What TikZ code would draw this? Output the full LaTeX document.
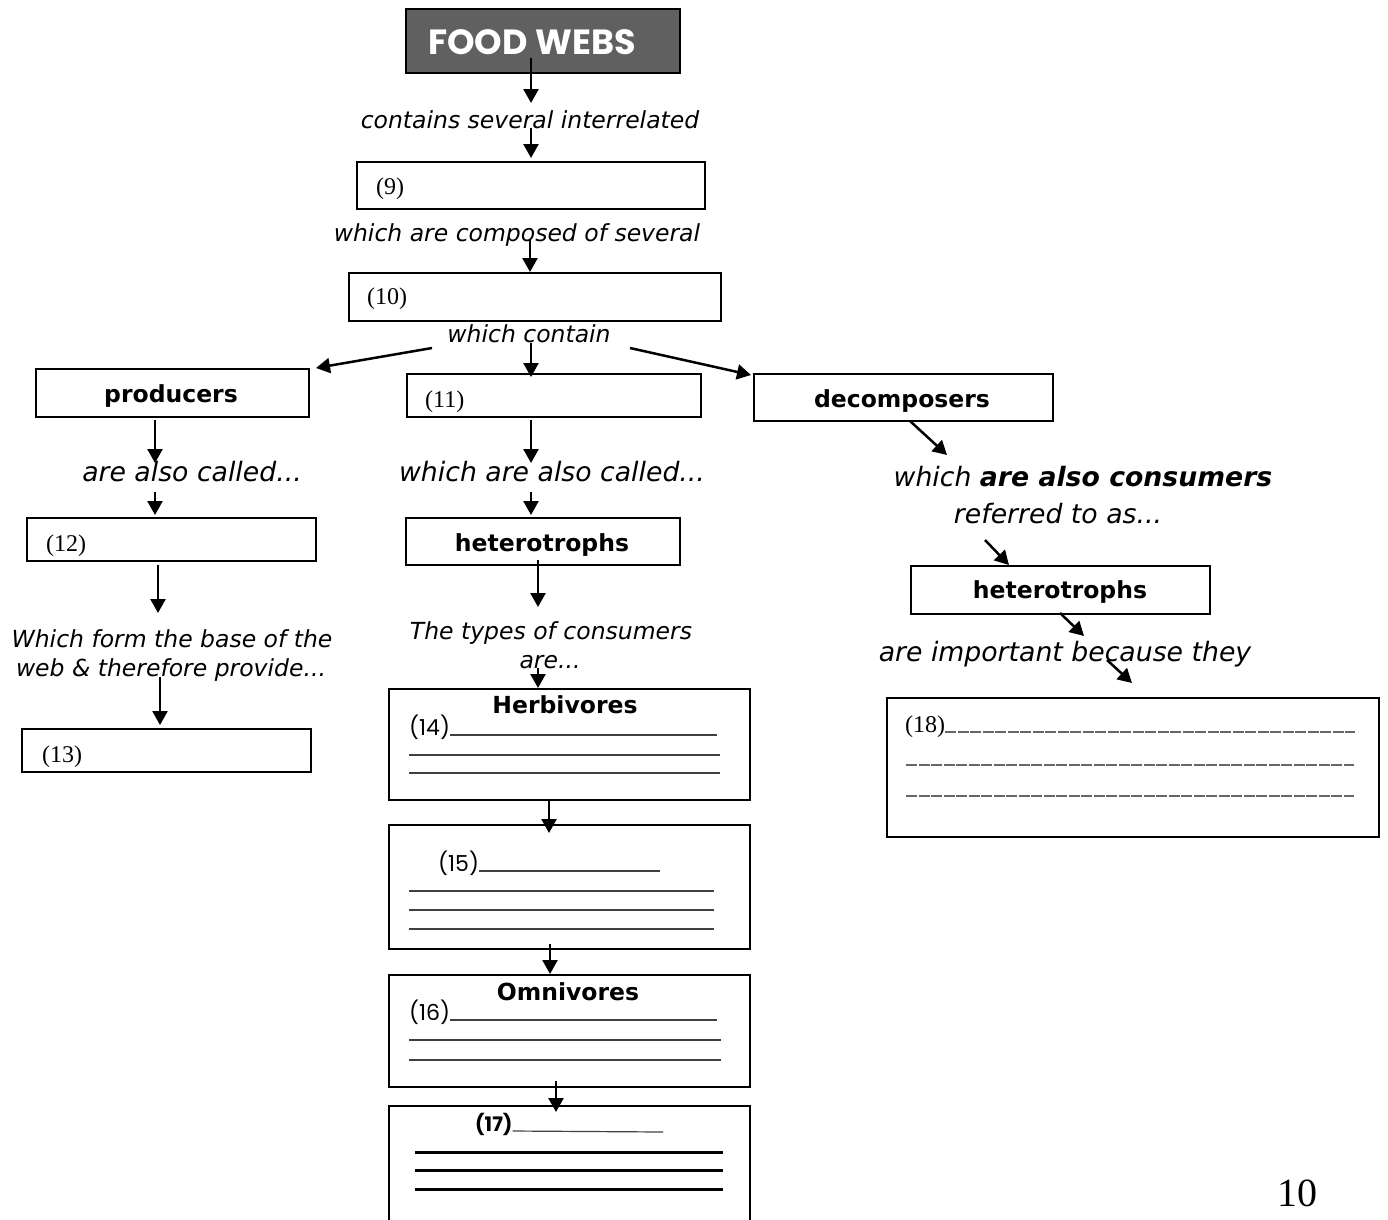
\documentclass[tikz,border=0pt]{standalone}
\usepackage{fontspec}
\setmainfont{DejaVu Sans}
\newfontfamily\serifnum{Liberation Serif}
\newfontfamily\gothic{Poppins}
\usetikzlibrary{arrows.meta}
\definecolor{headgray}{RGB}{96,96,96}

\begin{document}
\begin{tikzpicture}[x=1pt,y=-1pt,
  box/.style={draw, line width=2pt, inner sep=0pt, anchor=north west},
  arr/.style={line width=2.5pt, -{Triangle[length=14pt,width=15pt]}},
  lab/.style={anchor=base, inner sep=0pt, font=\fontsize{23.5}{28}\selectfont\itshape},
  biglab/.style={lab, font=\fontsize{26.7}{32}\selectfont\itshape},
  boxtitle/.style={anchor=base, inner sep=0pt, font=\fontsize{23.5}{28}\selectfont\bfseries},
  numtag/.style={anchor=base west, inner sep=0pt, font=\serifnum\fontsize{24}{28}\selectfont},
  gtag/.style={anchor=base west, inner sep=0pt, font=\gothic\fontsize{22}{26}\selectfont},
  blank/.style={line width=1.2pt, black!75},
  thickblank/.style={line width=3pt, black},
  dotblank/.style={line width=1.3pt, black!60, dash pattern=on 11pt off 1.5pt}
]
\useasboundingbox (0,0) rectangle (1388,1219);
\clip (0,0) rectangle (1388,1219);

% ---------- title ----------
\node[box, fill=headgray, minimum width=274pt, minimum height=64pt] (food) at (405,8) {};
\node[anchor=base, inner sep=0pt, text=white, font=\gothic\fontsize{35}{40}\selectfont\bfseries] (foodtxt) at (532,54) {FOOD WEBS};

% ---------- central chain ----------
\node[lab] (t1) at (530,128) {contains several interrelated};
\node[box, minimum width=348pt, minimum height=47pt] (b9) at (356,161) {};
\node[numtag] (n9) at (376,194) {(9)};
\node[lab] (t2) at (517,241) {which are composed of several};
\node[box, minimum width=372pt, minimum height=48pt] (b10) at (348,272) {};
\node[numtag] (n10) at (367,304) {(10)};
\node[lab] (t3) at (529,342) {which contain};

\node[box, minimum width=273pt, minimum height=48pt] (prod) at (35,368) {};
\node[boxtitle] at (171,402) {producers};
\node[box, minimum width=294pt, minimum height=43pt] (b11) at (406,373) {};
\node[numtag] (n11) at (425,407) {(11)};
\node[box, minimum width=299pt, minimum height=47pt] (dec) at (753,373) {};
\node[boxtitle] at (902,407) {decomposers};

% ---------- producers column ----------
\node[biglab] (t4) at (192,481) {are also called...};
\node[box, minimum width=289pt, minimum height=43pt] (b12) at (26,517) {};
\node[numtag] (n12) at (46,551) {(12)};
\node[lab] (t5) at (172,647) {Which form the base of the};
\node[lab] (t6) at (171,676) {web \& therefore provide...};
\node[box, minimum width=289pt, minimum height=43pt] (b13) at (21,728) {};
\node[numtag] (n13) at (42,762) {(13)};

% ---------- consumers column ----------
\node[biglab] (t7) at (552,481) {which are also called...};
\node[box, minimum width=274pt, minimum height=47pt] (het) at (405,517) {};
\node[boxtitle] at (542,551) {heterotrophs};
\node[lab] (t8) at (551,639) {The types of consumers};
\node[lab] (t9) at (550,668) {are...};

\node[box, minimum width=361pt, minimum height=111pt] (herb) at (388,688) {};
\node[boxtitle] at (565,713) {Herbivores};
\node[gtag] (n14) at (409,735) {(14)};
\draw[blank] (n14.base east) -- (717,735);
\draw[blank] (409,755) -- (720,755);
\draw[blank] (409,773) -- (720,773);

\node[box, minimum width=361pt, minimum height=124pt] (b15) at (388,824) {};
\node[gtag] (n15) at (438,871) {(15)};
\draw[blank] (n15.base east) -- (660,871);
\draw[blank] (409,891) -- (714,891);
\draw[blank] (409,910) -- (714,910);
\draw[blank] (409,929) -- (714,929);

\node[box, minimum width=361pt, minimum height=112pt] (b16) at (388,974) {};
\node[boxtitle] at (568,1000) {Omnivores};
\node[gtag] (n16) at (409,1020) {(16)};
\draw[blank] (n16.base east) -- (717,1020);
\draw[blank] (409,1040) -- (721,1040);
\draw[blank] (409,1060) -- (721,1060);

\node[box, minimum width=361pt, minimum height=150pt] (b17) at (388,1105) {};
\node[gtag, font=\gothic\fontsize{20}{24}\selectfont\bfseries] (n17) at (475,1131) {(17)};
\draw[blank] (n17.base east) -- (663,1132);
\draw[thickblank] (415,1152) -- (723,1152);
\draw[thickblank] (415,1170) -- (723,1170);
\draw[thickblank] (415,1189) -- (723,1189);

% ---------- decomposers column ----------
\node[biglab] (t10) at (1083,486) {which \textbf{are also consumers}};
\node[biglab] (t11) at (1058,523) {referred to as...};
\node[box, minimum width=299pt, minimum height=48pt] (het2) at (910,565) {};
\node[boxtitle] at (1060,598) {heterotrophs};
\node[biglab] (t12) at (1065,661) {are important because they};
\node[box, minimum width=492pt, minimum height=139pt] (b18) at (886,697) {};
\node[numtag] (n18) at (905,732) {(18)};
\draw[dotblank] (n18.base east) -- (1355,732);
\draw[dotblank] (906,765) -- (1354,765);
\draw[dotblank] (906,796) -- (1354,796);

% ---------- page number ----------
\node[anchor=base west, inner sep=0pt, font=\serifnum\fontsize{40}{44}\selectfont] (page) at (1277,1206) {10};

% ---------- arrow end points ----------
\coordinate (s1) at (531,58);   \coordinate (e1) at (531,103);
\coordinate (s2) at (531,128);
\coordinate (s3) at (530,240);
\coordinate (s4) at (432,348);  \coordinate (e4) at (316,368);
\coordinate (s5) at (531,343);
\coordinate (s6) at (630,348);  \coordinate (e6) at (751,375);
\coordinate (s7) at (155,420);  \coordinate (e7) at (155,463);
\coordinate (s8) at (155,492);
\coordinate (s9) at (531,420);  \coordinate (e9) at (531,463);
\coordinate (s10) at (531,492);
\coordinate (s11) at (158,565); \coordinate (e11) at (158,613);
\coordinate (s12) at (160,677); \coordinate (e12) at (160,725);
\coordinate (s13) at (538,560); \coordinate (e13) at (538,607);
\coordinate (s14) at (538,668);
\coordinate (s15) at (549,799); \coordinate (e15) at (549,833);
\coordinate (s16) at (550,944); \coordinate (e16) at (550,974);
\coordinate (s17) at (556,1081); \coordinate (e17) at (556,1112);
\coordinate (s18) at (910,421); \coordinate (e18) at (947,455);
\coordinate (s19) at (985,540); \coordinate (e19) at (1009,565);
\coordinate (s20) at (1060,613); \coordinate (e20) at (1084,636);
\coordinate (s21) at (1107,660); \coordinate (e21) at (1132,683);

% ---------- connectors ----------
\draw[arr] (s1) -- (e1);
\draw[arr, shorten >=3pt] (s2) -- (s2 |- b9.north);
\draw[arr] (s3) -- (s3 |- b10.north);
\draw[arr] (s4) -- (e4);
\draw[arr, shorten >=-4pt] (s5) -- (s5 |- b11.north);
\draw[arr] (s6) -- (e6);
\draw[arr] (s7) -- (e7);
\draw[arr, shorten >=2pt] (s8) -- (s8 |- b12.north);
\draw[arr] (s9) -- (e9);
\draw[arr, shorten >=2pt] (s10) -- (s10 |- het.north);
\draw[arr] (s11) -- (e11);
\draw[arr] (s12) -- (e12);
\draw[arr] (s13) -- (e13);
\draw[arr] (s14) -- (s14 |- herb.north);
\draw[arr] (s15) -- (e15);
\draw[arr] (s16) -- (e16);
\draw[arr] (s17) -- (e17);
\draw[arr] (s18) -- (e18);
\draw[arr] (s19) -- (e19);
\draw[arr] (s20) -- (e20);
\draw[arr] (s21) -- (e21);
\end{tikzpicture}
\end{document}
